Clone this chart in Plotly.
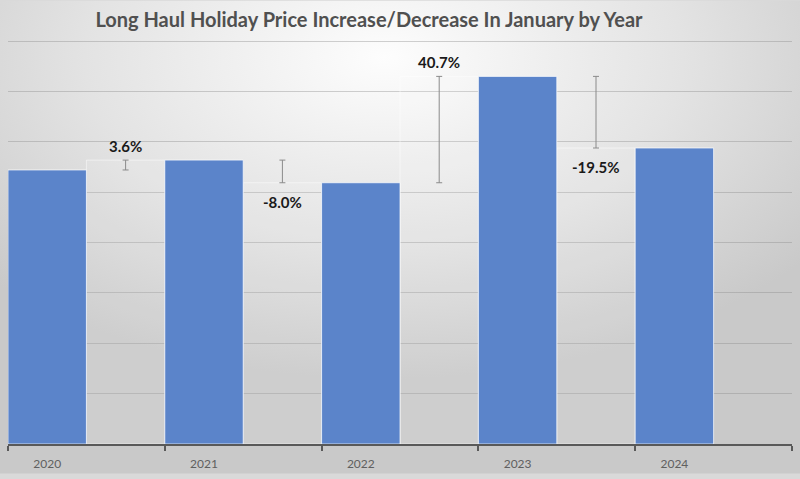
import base64
import plotly.graph_objects as go

# ---- data ----
years = ["2020", "2021", "2022", "2023", "2024"]
prices = [2720, 2818, 2593, 3649, 2938]
change_labels = ["3.6%", "-8.0%", "40.7%", "-19.5%"]

# ---- geometry helpers (style/layout, not data) ----
W, H = 800, 479
ML, MR, MT, MB = 8, 8, 39, 30
PW, PH = W - ML - MR, H - MT - MB

n = len(years)
xs = list(range(n))
gap_x = [i + 0.5 for i in range(n - 1)]
gap_h = [prices[i + 1] for i in range(n - 1)]
err_top = [max(prices[i], prices[i + 1]) for i in range(n - 1)]
err_len = [abs(prices[i + 1] - prices[i]) for i in range(n - 1)]

fig = go.Figure()

# invisible "step" bars
fig.add_trace(go.Bar(
    x=gap_x, y=gap_h, width=0.5,
    marker=dict(color="rgba(255,255,255,0.10)",
                line=dict(color="rgba(255,255,255,0.5)", width=1)),
    hoverinfo="skip", showlegend=False))

# main blue bars
fig.add_trace(go.Bar(
    x=xs, y=prices, width=0.5,
    marker=dict(color="#5B84CA",
                line=dict(color="rgba(255,255,255,0.7)", width=1)),
    showlegend=False))

# change error bars
fig.add_trace(go.Scatter(
    x=gap_x, y=err_top, mode="markers",
    marker=dict(size=1, color="rgba(0,0,0,0)"),
    error_y=dict(type="data", symmetric=False,
                 array=[0] * (n - 1), arrayminus=err_len,
                 color="#8a8a8a", thickness=1, width=3),
    hoverinfo="skip", showlegend=False))

annotations = []
for i, lab in enumerate(change_labels):
    up = prices[i + 1] >= prices[i]
    if up:
        annotations.append(dict(x=gap_x[i], y=err_top[i], text=lab,
                                showarrow=False, yanchor="bottom", yshift=3,
                                font=dict(family="Lato", size=15, color="#1a1a1a",
                                          weight="bold")))
    else:
        annotations.append(dict(x=gap_x[i], y=err_top[i] - err_len[i], text=lab,
                                showarrow=False, yanchor="top", yshift=-8,
                                font=dict(family="Lato", size=15, color="#1a1a1a",
                                          weight="bold")))

svg = f'''<svg xmlns="http://www.w3.org/2000/svg" width="{W}" height="{H}" viewBox="0 0 {W} {H}" preserveAspectRatio="none">
<defs><radialGradient id="g" cx="0.48" cy="0.12" r="0.68" gradientUnits="objectBoundingBox">
<stop offset="0" stop-color="#fdfdfd"/>
<stop offset="0.55" stop-color="#e3e3e3"/>
<stop offset="1" stop-color="#c9c9c9"/>
</radialGradient></defs>
<rect x="0" y="0" width="{W}" height="{H}" fill="url(#g)"/></svg>'''
src = "data:image/svg+xml;base64," + base64.b64encode(svg.encode()).decode()

fig.update_layout(
    width=W, height=H,
    margin=dict(l=ML, r=MR, t=MT, b=MB),
    barmode="overlay",
    paper_bgcolor="#d9d9d9",
    plot_bgcolor="rgba(0,0,0,0)",
    title=dict(text="Long Haul Holiday Price Increase/Decrease In January by Year",
               x=369 / W, xanchor="center", y=1 - 20 / H, yanchor="middle",
               font=dict(family="Lato", size=20, color="#505050", weight="bold")),
    images=[dict(source=src, xref="paper", yref="paper",
                 x=-ML / PW, y=1 + MT / PH, sizex=W / PW, sizey=H / PH,
                 xanchor="left", yanchor="top", sizing="stretch", layer="below")],
    annotations=annotations,
    xaxis=dict(range=[-0.25, n - 0.25], tickmode="array", tickvals=xs, ticktext=years,
               ticks="", ticklabelstandoff=8,
               tickfont=dict(family="Lato", size=12, color="#606060"),
               showline=True, linecolor="#595959", linewidth=1.5,
               showgrid=False, zeroline=False,
               minor=dict(tickmode="array", tickvals=[i - 0.25 for i in range(n + 1)],
                          ticks="outside", ticklen=5, tickcolor="#595959",
                          tickwidth=1.5, showgrid=False)),
    yaxis=dict(range=[0, 4020], tickmode="array",
               tickvals=[500 * k for k in range(1, 9)], showticklabels=False,
               gridcolor="rgba(140,140,140,0.4)", gridwidth=1,
               zeroline=False, showline=False),
)

fig.write_html("out.html")
